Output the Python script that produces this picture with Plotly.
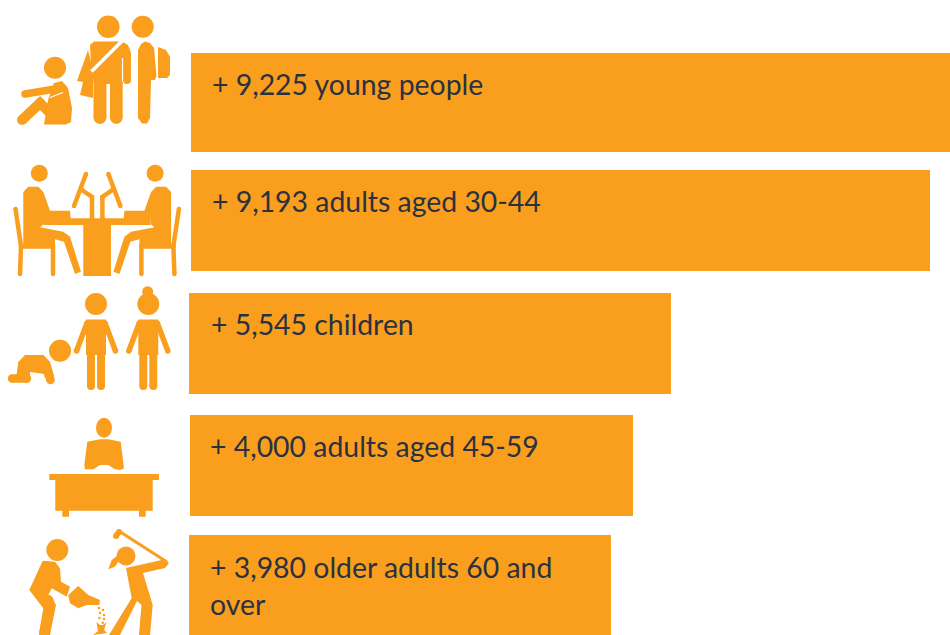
import plotly.graph_objects as go

# ---- data ----
groups = ["young people", "adults aged 30-44", "children", "adults aged 45-59", "older adults 60 and<br>over"]
counts = [9225, 9193, 5545, 4000, 3980]
bar_lengths = [759, 739, 482, 443, 422]   # drawn lengths (the source graphic is not to scale)

# ---- layout / style (pixel-mapped axes) ----
bar_left = [191, 191, 189, 190, 189]
bar_center = [102.5, 220.5, 343.5, 465.5, 585.0]
bar_thick = [99, 101, 101, 101, 100]
text_x = [209.5, 209.5, 208.5, 208, 207.5]
text_y = [83.5, 200.5, 323.5, 445.5, 585]
ORANGE = "#FA9E1E"
INK = "#2A3240"

shapes = []


def circle(cx, cy, r, ry=None, color=ORANGE):
    ry = r if ry is None else ry
    shapes.append(dict(type="circle", xref="x", yref="y", x0=cx - r, x1=cx + r, y0=cy - ry, y1=cy + ry,
                       fillcolor=color, line_width=0))


def poly(pts, color=ORANGE):
    p = "M" + " L".join(f"{x} {y}" for x, y in pts) + " Z"
    shapes.append(dict(type="path", xref="x", yref="y", path=p, fillcolor=color, line_width=0))


def limb(pts, w, color=ORANGE, caps=True):
    p = "M" + " L".join(f"{x} {y}" for x, y in pts)
    shapes.append(dict(type="path", xref="x", yref="y", path=p, line=dict(color=color, width=w)))
    if caps:
        for x, y in pts:
            circle(x, y, w / 2, color=color)


# --- icon 1: teenagers ---
circle(55, 67.7, 11)
poly([(54, 83), (62, 81), (68, 88), (72, 108), (71, 122), (66, 124.5), (44, 124.5), (48, 100)])
limb([(22, 120), (40, 103), (56, 119)], 10)
limb([(25, 94), (61, 88)], 7.5)
limb([(50, 97.5), (63, 92.5)], 1.3, "#FFFFFF", caps=False)
circle(108.3, 26.7, 11.3)
poly([(77, 81), (88, 50), (93, 70), (93, 98), (80, 95), (83, 82)])
poly([(90, 45), (94, 41.5), (122, 41.5), (128, 45), (131, 53), (131, 78), (123, 78), (123, 84), (94, 84), (91, 65)])
limb([(100, 80), (100, 117.5)], 13)
limb([(116.3, 80), (116.3, 117.5)], 12.7)
circle(127, 80, 4)
limb([(91.5, 71.5), (122, 41)], 3.5, "#FFFFFF", caps=False)
limb([(122.5, 58), (122.5, 82)], 1.2, "#FFFFFF", caps=False)
circle(142.7, 26.7, 11)
poly([(138, 50), (141, 44), (145, 41.5), (150, 43), (154, 48), (156.5, 76), (155, 80), (151, 80), (150, 118),
      (147, 123.5), (142, 123.5), (138, 118)])
poly([(158, 47), (166, 50), (170, 57), (170, 75), (167, 78), (158, 78)])

# --- icon 2: two adults at a table ---
MIRROR = 194.4


def both(func, pts, *a, **k):
    func(pts, *a, **k)
    func([(MIRROR - x, y) for x, y in pts], *a, **k)


circle(39.3, 173.3, 8.5)
circle(MIRROR - 39.3, 173.3, 8.5)
both(poly, [(23.3, 192), (28.3, 186.7), (38.3, 186.7), (43.3, 192), (50, 210.7), (70, 210.7), (70.7, 219),
            (44, 219), (44, 224), (40, 227.3), (63.3, 231.7), (70, 236.7), (81, 271.7), (75, 274), (64, 241.7),
            (55, 239.3), (55, 247), (23.3, 247)])
both(limb, [(15.5, 209), (21, 246), (20, 274)], 4.5)
both(limb, [(21, 246.5), (53, 246.5), (53, 274)], 4.5)
poly([(44, 218.3), (150.4, 218.3), (150.4, 225), (111, 225), (111, 276), (83.3, 276), (83.3, 225), (44, 225)])
both(limb, [(86, 174), (74, 206)], 4.5)
both(limb, [(82, 190), (92, 197), (92, 218)], 4.5)

# --- icon 3: children ---
circle(60, 350.7, 11)
poly([(18.3, 362), (25, 355), (43.3, 355), (50, 361.7), (54, 376), (45, 378), (44, 374), (30, 372), (30, 378),
      (12, 378), (16.7, 374)])
limb([(12, 378.5), (27, 378.5)], 8.5)
limb([(46, 366), (50.5, 380)], 8.5)
for dx in (0, 52.3):
    circle(96 + dx, 304, 11)
    poly([(86 + dx, 319.5), (106 + dx, 319.5), (106 + dx, 355), (86 + dx, 355)])
    limb([(87 + dx, 323), (76.5 + dx, 351)], 5.5)
    limb([(105 + dx, 323), (115.5 + dx, 351)], 5.5)
    limb([(91 + dx, 352), (91 + dx, 386)], 8)
    limb([(101 + dx, 352), (101 + dx, 386)], 8)
circle(147.7, 291.7, 5.5)

# --- icon 4: person at desk ---
circle(104, 427.7, 8, ry=10)
poly([(87.3, 441.7), (100, 439.3), (108.3, 439.3), (120.7, 441.7), (124, 468.3), (120, 470), (115, 469.3),
      (108.3, 465), (100, 465), (93.3, 469.3), (85, 469.3), (84.3, 465)])
poly([(49.3, 474), (159, 474), (159, 480), (152.7, 480), (152.7, 510.7), (145.7, 510.7), (145.7, 516.7), (139, 516.7),
      (139, 510.7), (69, 510.7), (69, 516.7), (62.3, 516.7), (62.3, 510.7), (55.3, 510.7), (55.3, 480), (49.3, 480)])

# --- icon 5: gardening and golf ---
circle(57.3, 550, 11)
poly([(42.7, 560.7), (55, 561.7), (60, 568.3), (61, 581.7), (70, 586.7), (66.7, 596.7), (51.7, 588.3), (48.3, 595),
      (56, 605), (50, 635), (39, 635), (43.3, 608.3), (29.3, 590)])
limb([(48, 600), (50, 605), (44.5, 632)], 10.5)
poly([(68.3, 595), (78.3, 586), (88.3, 595), (100, 600), (99.3, 605), (86.7, 605), (78.3, 608.3), (70, 603.3)])
for x, y in [(99, 608), (103, 610), (100, 613), (104, 615), (99.5, 618), (104, 619), (102.7, 622.7)]:
    circle(x, y, 1.3)
poly([(96.5, 622), (100, 625), (103, 625), (106.5, 622), (104, 630), (107, 633), (93, 635), (98, 631)])
circle(126, 556, 9.5)
poly([(118.3, 555), (111.7, 560), (108.3, 569.3), (115, 566.7), (118.3, 561.7)])
limb([(120, 531.7), (167, 562)], 3, caps=False)
limb([(119, 532), (116, 536)], 6)
poly([(126, 568), (165, 559.3), (169, 563.3), (165, 568), (143, 573), (152.7, 605), (150, 635), (139, 635),
      (141.5, 605), (137, 601), (120, 635), (109, 635), (131.7, 598)])

labels = [f"+ {c:,} {g}" for c, g in zip(counts, groups)]

fig = go.Figure(go.Bar(
    orientation="h",
    x=bar_lengths,
    base=bar_left,
    y=bar_center,
    width=bar_thick,
    marker=dict(color=ORANGE, line_width=0),
    hoverinfo="skip",
))

annotations = [
    dict(x=x, y=y, xref="x", yref="y", text=t, showarrow=False, xanchor="left", yanchor="middle", align="left",
         font=dict(family="Lato", size=28.4, color=INK))
    for x, y, t in zip(text_x, text_y, labels)
]

fig.update_layout(
    width=950, height=635,
    margin=dict(l=0, r=0, t=0, b=0),
    paper_bgcolor="#FFFFFF", plot_bgcolor="#FFFFFF",
    showlegend=False,
    xaxis=dict(range=[0, 950], visible=False, fixedrange=True),
    yaxis=dict(range=[635, 0], visible=False, fixedrange=True),
    shapes=shapes,
    annotations=annotations,
)

fig.write_html("out.html", config=dict(displayModeBar=False),
               post_script="document.body.style.margin='0';document.body.style.overflow='hidden';")
